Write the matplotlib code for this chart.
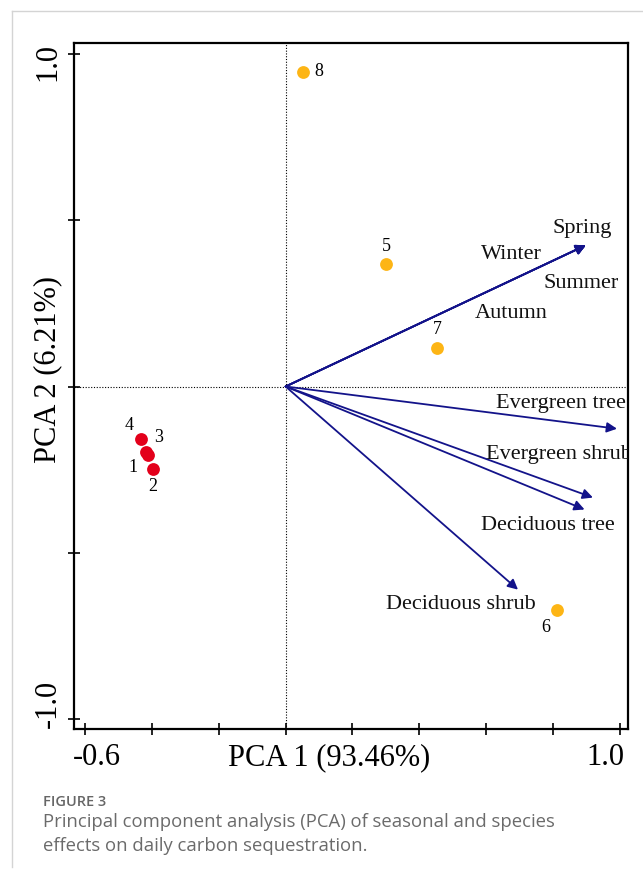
import matplotlib.pyplot as plt
import matplotlib.transforms as mtrans

# puntos (sitios)
pt_ids = ["1", "2", "3", "4", "5", "6", "7", "8"]
pt_x = [-0.411, -0.396, -0.417, -0.432, 0.300, 0.811, 0.453, 0.052]
pt_y = [-0.205, -0.247, -0.196, -0.157, 0.367, -0.672, 0.117, 0.946]
pt_group = ["r", "r", "r", "r", "o", "o", "o", "o"]
# desplazamiento de etiquetas (pixeles)
pt_lab_dx = [-15, 0, 12, -12, 0, -11, 0, 16]
pt_lab_dy = [-13, -18, 14, 13, 18, -18, 18, 0]

# vectores (variables)
vec_names = ["Spring", "Winter", "Summer", "Autumn",
             "Evergreen tree", "Evergreen shrub", "Deciduous tree", "Deciduous shrub"]
vec_x = [0.898, 0.898, 0.898, 0.898, 0.991, 0.919, 0.894, 0.695]
vec_y = [0.425, 0.425, 0.425, 0.425, -0.127, -0.334, -0.370, -0.611]
lab_x = [0.888, 0.674, 0.883, 0.674, 1.018, 1.035, 0.985, 0.747]
lab_y = [0.476, 0.398, 0.310, 0.220, -0.050, -0.204, -0.419, -0.657]
lab_ha = ["center", "center", "center", "center", "right", "right", "right", "right"]

colores = {"r": "#e3001b", "o": "#fdb515"}
azul = "#13138a"

fig = plt.figure(figsize=(6.43, 8.77), dpi=100)
ax = fig.add_axes([74/643, 1-729/877, (628-74)/643, (729-43)/877])

ax.set_xlim(-0.6 - 11/334.4, 1.0 + 8/334.4)
ax.set_ylim(-1.0 - 10/332.5, 1.0 + 11/332.5)

ax.axvline(0, color="black", lw=0.8, ls=(0, (1, 1.5)), zorder=1)
ax.axhline(0, color="black", lw=0.8, ls=(0, (1, 1.5)), zorder=1)

serif = "Liberation Serif"

for i in range(len(vec_names)):
    ax.annotate("", xy=(vec_x[i], vec_y[i]), xytext=(0, 0),
                arrowprops=dict(arrowstyle="-|>", color=azul, lw=1.3,
                                mutation_scale=15, shrinkA=0, shrinkB=0))
    t = ax.text(lab_x[i], lab_y[i], vec_names[i], ha=lab_ha[i], va="center",
                fontsize=16, family=serif, color="#111111")
    t.set_clip_on(True)

for i in range(len(pt_ids)):
    ax.scatter(pt_x[i], pt_y[i], s=85, color=colores[pt_group[i]], zorder=3, lw=0)
    off = mtrans.offset_copy(ax.transData, fig=fig, x=pt_lab_dx[i], y=pt_lab_dy[i], units="dots")
    ax.text(pt_x[i], pt_y[i], pt_ids[i], transform=off, ha="center", va="center",
            fontsize=13, family=serif)

ax.set_xticks([-0.6, -0.4, -0.2, 0.0, 0.2, 0.4, 0.6, 0.8, 1.0])
ax.set_yticks([-1.0, -0.5, 0.0, 0.5, 1.0])
ax.set_xticklabels([])
ax.set_yticklabels([])
ax.tick_params(direction="inout", length=8, width=1.2)
for s in ax.spines.values():
    s.set_linewidth(1.6)

# etiquetas de ejes al estilo R
xt = ax.get_xaxis_transform()
yt = ax.get_yaxis_transform()
ax.text(-0.564, -0.042, "-0.6", transform=xt, ha="center", va="center", fontsize=22, family=serif)
ax.text(0.955, -0.042, "1.0", transform=xt, ha="center", va="center", fontsize=22, family=serif)
ax.text(0.13, -0.042, "PCA 1 (93.46%)", transform=xt, ha="center", va="center", fontsize=22, family=serif)
ax.text(-0.047, 0.975, "1.0", transform=yt, rotation=90, ha="center", va="center", fontsize=22, family=serif)
ax.text(-0.047, -0.955, "-1.0", transform=yt, rotation=90, ha="center", va="center", fontsize=22, family=serif)
ax.text(-0.047, 0.05, "PCA 2 (6.21%)", transform=yt, rotation=90, ha="center", va="center", fontsize=22, family=serif)

# marco gris de la pagina y pie de figura
fig.add_artist(plt.Line2D([12/643, 1], [1-11/877, 1-11/877], color="#d4d4d4", lw=1))
fig.add_artist(plt.Line2D([12/643, 12/643], [1-867/877, 1-11/877], color="#d4d4d4", lw=1))
fig.text(43/643, 1-802/877, "FIGURE 3", fontsize=10.5, family="Open Sans", color="#666666",
         weight="semibold", va="center")
fig.text(43/643, 1-834/877, "Principal component analysis (PCA) of seasonal and species\n"
         "effects on daily carbon sequestration.", fontsize=13.3, family="Open Sans",
         color="#6b6b6b", va="center", linespacing=1.4)

fig.savefig("out.png", dpi=100)
